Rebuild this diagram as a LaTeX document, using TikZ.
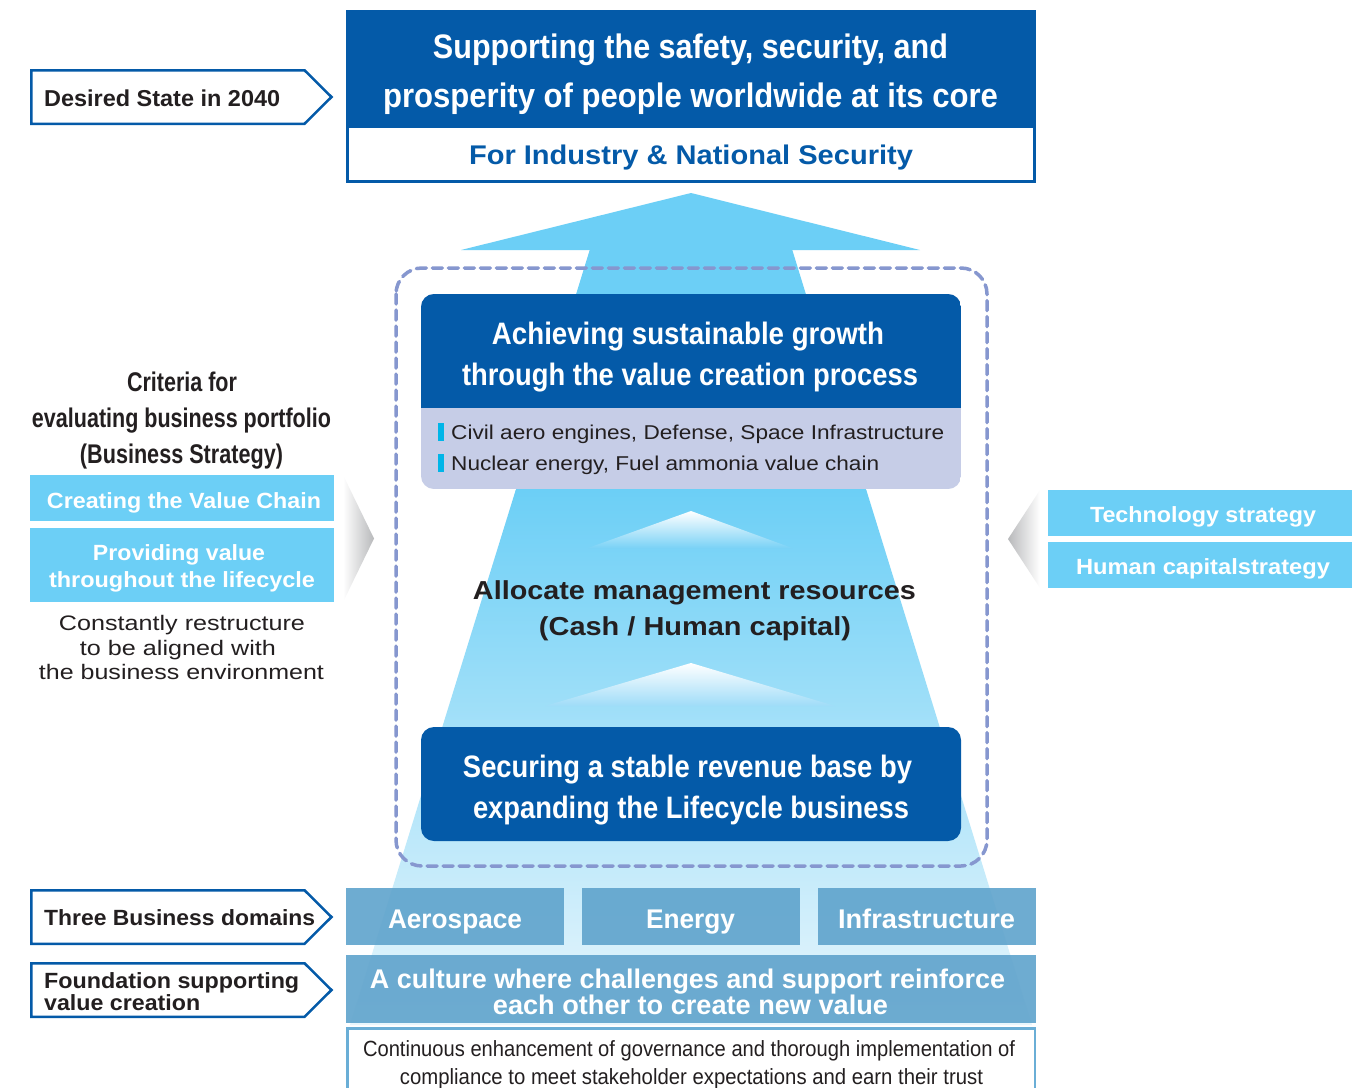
\documentclass[tikz,border=0pt]{standalone}
\usepackage{fontspec}
\setmainfont{Liberation Sans}
\usepackage{graphicx}
\definecolor{darkb}{RGB}{4,90,168}
\definecolor{cyanc}{RGB}{108,207,246}
\definecolor{cyanmid}{RGB}{122,210,246}
\definecolor{cyanlow}{RGB}{159,220,248}
\definecolor{palec}{RGB}{233,246,252}
\definecolor{lav}{RGB}{198,205,231}
\definecolor{domc}{RGB}{95,163,204}
\definecolor{govc}{RGB}{106,174,214}
\definecolor{dashc}{RGB}{134,151,207}
\definecolor{bullc}{RGB}{0,181,232}
\definecolor{darkt}{RGB}{35,31,32}
\definecolor{grayc}{RGB}{184,185,187}
\newcommand{\fw}[2]{\resizebox{#1pt}{\height}{#2}}
\tikzset{
  tc/.style={inner sep=0pt, anchor=base},
  tl/.style={inner sep=0pt, anchor=base west},
  pent/.style={draw=darkb, line width=2.5pt, fill=white, line join=miter},
  cbox/.style={fill=cyanc},
  dbox/.style={fill=domc, fill opacity=0.9},
}
\begin{document}
\begin{tikzpicture}[x=1pt,y=-1pt]
\useasboundingbox (0,0) rectangle (1368,1087);
\fill[white] (0,0) rectangle (1368,1087);

% ---- big arrow ----
\fill[cyanc] (461,250) -- (691,193) -- (920,250) -- cycle;
\fill[cyanc] (590,249) -- (792,249) -- (866.3,490.5) -- (515.7,490.5) -- cycle;
\shade[top color=cyanc, bottom color=palec] (515.7,490) -- (866.3,490) -- (1032,1025) -- (350,1025) -- cycle;

% small chevrons
\shade[top color=white, bottom color=cyanmid] (691,511) -- (792,548) -- (588,548) -- cycle;
\shade[top color=white, bottom color=cyanlow] (691,663) -- (835,706) -- (545,706) -- cycle;

% dashed frame
\draw[dashc, line width=3.5pt, dash pattern=on 10pt off 6pt, line cap=round, rounded corners=26pt] (396,268) rectangle (987,866);

% ---- top box ----
\fill[darkb] (346,10) rectangle (1036,126);
\draw[darkb, line width=3pt, fill=white] (347.5,126) rectangle (1034.5,181.5);
\node[tc, text=white, font=\fontsize{34}{40}\bfseries] (top1) at (690.5,58) {\fw{515}{Supporting the safety, security, and}};
\node[tc, text=white, font=\fontsize{34}{40}\bfseries] (top2) at (690.5,107) {\fw{615}{prosperity of people worldwide at its core}};
\node[tc, text=darkb, font=\fontsize{27}{32}\bfseries] (top3) at (691,164) {\fw{444}{For Industry \& National Security}};

% ---- pentagon labels ----
\draw[pent] (31.25,70.25) -- (304.5,70.25) -- (331.5,97) -- (304.5,123.75) -- (31.25,123.75) -- cycle;
\node[tl, text=darkt, font=\fontsize{23}{27}\bfseries] (lab1) at (44,106) {\fw{236}{Desired State in 2040}};

\draw[pent] (31.25,890.25) -- (304.5,890.25) -- (331.5,917) -- (304.5,943.75) -- (31.25,943.75) -- cycle;
\node[tl, text=darkt, font=\fontsize{22}{26}\bfseries] (lab2) at (44,925) {\fw{271}{Three Business domains}};

\draw[pent] (31.25,963.25) -- (304.5,963.25) -- (331.5,990) -- (304.5,1016.75) -- (31.25,1016.75) -- cycle;
\node[tl, text=darkt, font=\fontsize{22}{26}\bfseries] (lab3a) at (44,988) {\fw{255}{Foundation supporting}};
\node[tl, text=darkt, font=\fontsize{22}{26}\bfseries] (lab3b) at (44,1010) {\fw{156}{value creation}};

% ---- achieving box ----
\begin{scope}
\clip[rounded corners=13pt] (421,294) rectangle (961,489);
\fill[lav] (421,294) rectangle (961,489);
\fill[darkb] (421,294) rectangle (961,408);
\end{scope}
\node[tc, text=white, font=\fontsize{31}{36}\bfseries] (ach1) at (688,344) {\fw{392}{Achieving sustainable growth}};
\node[tc, text=white, font=\fontsize{31}{36}\bfseries] (ach2) at (690,385) {\fw{456}{through the value creation process}};
\fill[bullc] (438,423) rectangle (444,441);
\fill[bullc] (438,454) rectangle (444,472);
\node[tl, text=darkt, font=\fontsize{20}{24}\selectfont] (bul1) at (451,439) {\fw{493}{Civil aero engines, Defense, Space Infrastructure}};
\node[tl, text=darkt, font=\fontsize{20}{24}\selectfont] (bul2) at (451,470) {\fw{428}{Nuclear energy, Fuel ammonia value chain}};

% ---- allocate ----
\node[tc, text=darkt, font=\fontsize{26}{30}\bfseries] (all1) at (694.5,599) {\fw{443}{Allocate management resources}};
\node[tc, text=darkt, font=\fontsize{26}{30}\bfseries] (all2) at (695,635) {\fw{312}{(Cash / Human capital)}};

% ---- securing box ----
\fill[darkb, rounded corners=13pt] (421,727) rectangle (961,841);
\node[tc, text=white, font=\fontsize{31}{36}\bfseries] (sec1) at (687.5,777) {\fw{449}{Securing a stable revenue base by}};
\node[tc, text=white, font=\fontsize{31}{36}\bfseries] (sec2) at (691,818) {\fw{436}{expanding the Lifecycle business}};

% ---- left criteria ----
\node[tc, text=darkt, font=\fontsize{27}{32}\bfseries] (cr1) at (182,391) {\fw{110}{Criteria for}};
\node[tc, text=darkt, font=\fontsize{27}{32}\bfseries] (cr2) at (181.5,427) {\fw{299}{evaluating business portfolio}};
\node[tc, text=darkt, font=\fontsize{27}{32}\bfseries] (cr3) at (181.5,463) {\fw{203}{(Business Strategy)}};
\fill[cbox] (30,475) rectangle (334,521);
\fill[cbox] (30,528) rectangle (334,602);
\node[tc, text=white, font=\fontsize{22}{26}\bfseries] (cv1) at (184,508) {\fw{274}{Creating the Value Chain}};
\node[tc, text=white, font=\fontsize{22}{26}\bfseries] (cv2) at (179,560) {\fw{172}{Providing value}};
\node[tc, text=white, font=\fontsize{22}{26}\bfseries] (cv3) at (182,587) {\fw{266}{throughout the lifecycle}};
\node[tc, text=darkt, font=\fontsize{21}{25}\selectfont] (cs1) at (182,630) {\fw{246}{Constantly restructure}};
\node[tc, text=darkt, font=\fontsize{21}{25}\selectfont] (cs2) at (178,655) {\fw{196}{to be aligned with}};
\node[tc, text=darkt, font=\fontsize{21}{25}\selectfont] (cs3) at (181.5,679) {\fw{285}{the business environment}};
\shade[left color=white, right color=grayc] (343,475) -- (374,538.5) -- (343,602) -- cycle;

% ---- right strategies ----
\shade[left color=grayc, right color=white] (1040,490) -- (1008,539) -- (1040,588) -- cycle;
\fill[cbox] (1048,490) rectangle (1352,536);
\fill[cbox] (1048,542) rectangle (1352,588);
\node[tc, text=white, font=\fontsize{22}{26}\bfseries] (st1) at (1203,522) {\fw{226}{Technology strategy}};
\node[tc, text=white, font=\fontsize{22}{26}\bfseries] (st2) at (1203,574) {\fw{254}{Human capitalstrategy}};

% ---- domains ----
\fill[dbox] (346,888) rectangle (564,945);
\fill[dbox] (582,888) rectangle (800,945);
\fill[dbox] (818,888) rectangle (1036,945);
\node[tc, text=white, font=\fontsize{27}{32}\bfseries] (d1) at (455,928) {\fw{134}{Aerospace}};
\node[tc, text=white, font=\fontsize{27}{32}\bfseries] (d2) at (690.5,928) {\fw{89}{Energy}};
\node[tc, text=white, font=\fontsize{27}{32}\bfseries] (d3) at (926.5,928) {\fw{177}{Infrastructure}};
\fill[dbox] (346,955) rectangle (1036,1023);
\node[tc, text=white, font=\fontsize{27}{32}\bfseries] (cu1) at (687.5,988) {\fw{635}{A culture where challenges and support reinforce}};
\node[tc, text=white, font=\fontsize{27}{32}\bfseries] (cu2) at (690.5,1014) {\fw{395}{each other to create new value}};

% ---- governance ----
\draw[govc, line width=2.5pt, fill=white] (347.25,1028.25) rectangle (1034.75,1100);
\node[tc, text=darkt, font=\fontsize{22}{26}\selectfont] (gv1) at (689,1056) {\fw{652}{Continuous enhancement of governance and thorough implementation of}};
\node[tc, text=darkt, font=\fontsize{22}{26}\selectfont] (gv2) at (691.5,1084) {\fw{583}{compliance to meet stakeholder expectations and earn their trust}};
\end{tikzpicture}
\end{document}
